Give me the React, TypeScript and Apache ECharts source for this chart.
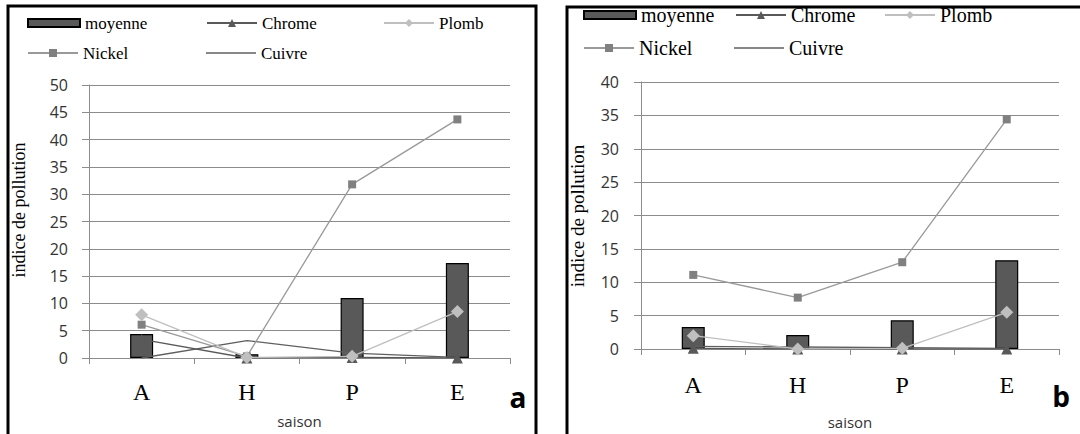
import React, { useEffect, useRef } from "react";
import * as echarts from "echarts";

// ---------- data ----------
const seasons = ["A", "H", "P", "E"];

// panel a
const moyenneA = [4.4, 0.7, 11.0, 17.4];
const chromeA = [3.4, 0.0, 0.1, 0.0];
const plombA = [7.9, 0.1, 0.3, 8.5];
const nickelA = [6.1, 0.3, 31.8, 43.7];
const cuivreA = [0.0, 3.2, 0.9, 0.1];

// panel b
const moyenneB = [3.3, 2.1, 4.3, 13.3];
const chromeB = [0.1, 0.0, 0.0, 0.0];
const plombB = [2.0, 0.0, 0.1, 5.5];
const nickelB = [11.1, 7.7, 13.0, 34.4];
const cuivreB = [0.4, 0.3, 0.2, 0.1];

const yMaxA = 50;
const yMaxB = 40;
const yStep = 5;

const axisTitleX = "saison";
const axisTitleY = "indice de pollution";
const panelTags = ["a", "b"];

const SERIF = '"Liberation Serif", "DejaVu Serif", serif';
const SANS = '"Open Sans", "Liberation Sans", sans-serif';

function makeSeries(idx: number, moy: number[], chr: number[], plo: number[], nic: number[], cui: number[]) {
  return [
    {
      name: "moyenne",
      type: "bar",
      xAxisIndex: idx,
      yAxisIndex: idx,
      data: moy,
      barWidth: 23,
      itemStyle: { color: "#595959", borderColor: "#000", borderWidth: 1.2 },
      z: 1,
    },
    {
      name: "Chrome",
      type: "line",
      xAxisIndex: idx,
      yAxisIndex: idx,
      data: chr,
      symbol: "triangle",
      symbolSize: 11,
      lineStyle: { color: "#595959", width: 1.3 },
      itemStyle: { color: "#595959" },
      z: 3,
    },
    {
      name: "Plomb",
      type: "line",
      xAxisIndex: idx,
      yAxisIndex: idx,
      data: plo,
      symbol: "diamond",
      symbolSize: 13,
      lineStyle: { color: "#BFBFBF", width: 1.3 },
      itemStyle: { color: "#BFBFBF" },
      z: 4,
    },
    {
      name: "Nickel",
      type: "line",
      xAxisIndex: idx,
      yAxisIndex: idx,
      data: nic,
      symbol: "rect",
      symbolSize: 8,
      lineStyle: { color: "#999999", width: 1.3 },
      itemStyle: { color: "#808080" },
      z: 3,
    },
    {
      name: "Cuivre",
      type: "line",
      xAxisIndex: idx,
      yAxisIndex: idx,
      data: cui,
      symbol: "none",
      lineStyle: { color: "#5f5f5f", width: 1.3 },
      itemStyle: { color: "#5f5f5f" },
      z: 2,
    },
  ];
}

function makeXAxis(idx: number, gap: number, margin: number) {
  return {
    type: "category",
    gridIndex: idx,
    data: seasons,
    boundaryGap: true,
    name: axisTitleX,
    nameLocation: "middle",
    nameGap: gap,
    nameTextStyle: { fontFamily: SANS, fontSize: 15, color: "#333" },
    axisLine: { show: true, lineStyle: { color: "#8c8c8c", width: 1 } },
    axisTick: { show: true, length: 6, lineStyle: { color: "#8c8c8c" } },
    axisLabel: { fontFamily: SERIF, fontSize: 24, color: "#000", margin },
    splitLine: { show: false },
  };
}

function makeYAxis(idx: number, max: number, margin: number) {
  return {
    type: "value",
    gridIndex: idx,
    min: 0,
    max,
    interval: yStep,
    axisLine: { show: true, lineStyle: { color: "#8c8c8c", width: 1 } },
    axisTick: { show: true, length: 7, lineStyle: { color: "#8c8c8c" } },
    axisLabel: { fontFamily: SANS, fontSize: 16, color: "#333", margin },
    splitLine: { show: true, lineStyle: { color: "#8c8c8c", width: 1 } },
  };
}

function legendItem(name: string, left: number, centerY: number, fontSize: number, kind: "bar" | "line" | "plain") {
  const lh = fontSize + 3;
  const base: any = {
    data: [kind === "line" ? name : { name, icon: "rect" }],
    left,
    top: centerY - lh / 2,
    orient: "horizontal",
    padding: 0,
    selectedMode: false,
    textStyle: { fontFamily: SERIF, fontSize, color: "#000", lineHeight: lh },
  };
  if (kind === "bar") {
    base.itemWidth = 52;
    base.itemHeight = 8;
  } else if (kind === "plain") {
    base.itemWidth = 50;
    base.itemHeight = 1.5;
  } else {
    base.itemWidth = 50;
    base.itemHeight = 10;
  }
  return base;
}

export default function App() {
  const ref = useRef<HTMLDivElement>(null);

  useEffect(() => {
    document.body.style.margin = "0";
    const chart = echarts.init(ref.current!, undefined, { renderer: "svg" });

    const option: any = {
      animation: false,
      backgroundColor: "#fff",
      grid: [
        { left: 89, top: 85, width: 421, height: 273 },
        { left: 641, top: 82, width: 418, height: 267 },
      ],
      xAxis: [makeXAxis(0, 55, 22), makeXAxis(1, 65, 24)],
      yAxis: [makeYAxis(0, yMaxA, 21), makeYAxis(1, yMaxB, 22)],
      legend: [
        legendItem("moyenne", 27, 23, 17, "bar"),
        legendItem("Chrome", 206, 23, 17, "line"),
        legendItem("Plomb", 383, 23, 17, "line"),
        legendItem("Nickel", 27, 53, 17, "line"),
        legendItem("Cuivre", 206, 53, 17, "plain"),
        legendItem("moyenne", 583, 15, 20, "bar"),
        legendItem("Chrome", 735, 15, 20, "line"),
        legendItem("Plomb", 884, 15, 20, "line"),
        legendItem("Nickel", 583, 48, 20, "line"),
        legendItem("Cuivre", 734, 48, 20, "plain"),
      ],
      series: [
        ...makeSeries(0, moyenneA, chromeA, plombA, nickelA, cuivreA),
        ...makeSeries(1, moyenneB, chromeB, plombB, nickelB, cuivreB),
      ],
      graphic: [
        {
          type: "rect",
          shape: { x: 8, y: 6, width: 528, height: 450 },
          style: { fill: "none", stroke: "#000", lineWidth: 3 },
          silent: true,
          z: 0,
        },
        {
          type: "rect",
          shape: { x: 567, y: 7, width: 540, height: 450 },
          style: { fill: "none", stroke: "#000", lineWidth: 3 },
          silent: true,
          z: 0,
        },
        {
          type: "text",
          x: 19,
          y: 210,
          rotation: Math.PI / 2,
          style: {
            text: axisTitleY,
            font: `18px ${SERIF}`,
            fill: "#000",
            align: "center",
            verticalAlign: "middle",
            textAlign: "center",
            textVerticalAlign: "middle",
          },
        },
        {
          type: "text",
          x: 577,
          y: 216,
          rotation: Math.PI / 2,
          style: {
            text: axisTitleY,
            font: `19px ${SERIF}`,
            fill: "#000",
            align: "center",
            verticalAlign: "middle",
            textAlign: "center",
            textVerticalAlign: "middle",
          },
        },
        {
          type: "text",
          x: 518,
          y: 397,
          style: {
            text: panelTags[0],
            font: `bold 28px ${SANS}`,
            fill: "#000",
            align: "center",
            verticalAlign: "middle",
            textAlign: "center",
            textVerticalAlign: "middle",
          },
        },
        {
          type: "text",
          x: 1061,
          y: 396,
          style: {
            text: panelTags[1],
            font: `bold 28px ${SANS}`,
            fill: "#000",
            align: "center",
            verticalAlign: "middle",
            textAlign: "center",
            textVerticalAlign: "middle",
          },
        },
      ],
    };

    chart.setOption(option);
    return () => chart.dispose();
  }, []);

  return (
    <div
      ref={ref}
      style={{ position: "absolute", left: 0, top: 0, width: 1080, height: 434, background: "#fff" }}
    />
  );
}
